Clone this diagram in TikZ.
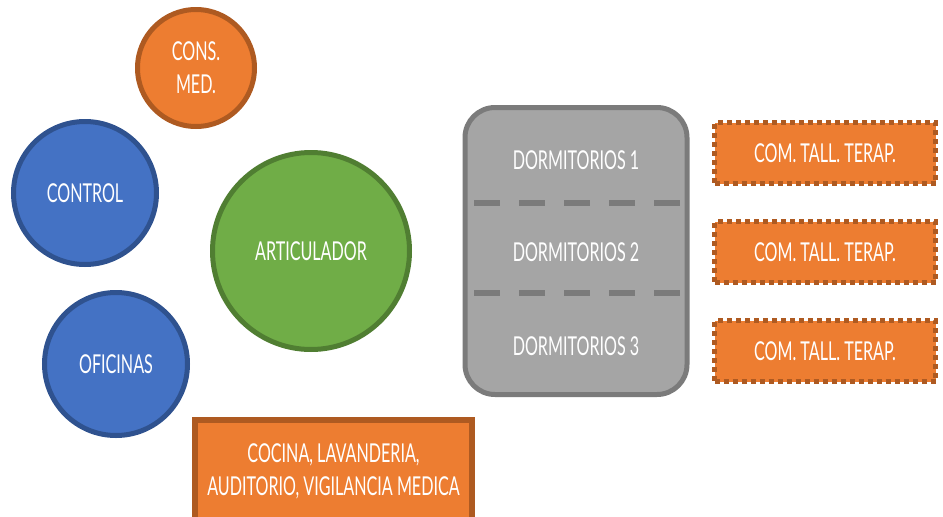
\documentclass[tikz,border=0pt]{standalone}
\usepackage{fontspec}
\setmainfont[FakeStretch=0.62]{Lato}
\usetikzlibrary{positioning}
\definecolor{naranja}{HTML}{ED7D31}
\definecolor{naranjaosc}{HTML}{AE5A21}
\definecolor{azul}{HTML}{4472C4}
\definecolor{azulosc}{HTML}{2F528F}
\definecolor{verde}{HTML}{70AD47}
\definecolor{verdeosc}{HTML}{507E32}
\definecolor{gris}{HTML}{A5A5A5}
\definecolor{grisosc}{HTML}{7B7B7B}
\begin{document}
\begin{tikzpicture}[x=1pt,y=-1pt,line width=5pt,
    font=\fontsize{26}{33}\selectfont]
      \useasboundingbox (0,0) rectangle (943,517);
      \begin{scope}[every node/.style={circle,draw,text=white,inner sep=0pt,align=center}]
        \node (consmed)[fill=naranja,draw=naranjaosc,minimum size=117pt] at (196,68) {CONS.\\MED.};
        \node (control)[fill=azul,draw=azulosc,minimum size=143pt] at (85,193) {CONTROL};
        \node (oficinas)[fill=azul,draw=azulosc,minimum size=143pt] at (116,364) {OFICINAS};
        \node (articulador)[fill=verde,draw=verdeosc,minimum size=197pt] at (311,251) {ARTICULADOR};
      \end{scope}
      \node (dorm)[draw=grisosc,fill=gris,rounded corners=30pt,minimum width=222pt,minimum height=287pt] at (576,251) {};
      \begin{scope}[every node/.style={text=white}]
        \node (dorm1) at (576,160) {DORMITORIOS 1};
        \node (dorm2) at (576,252) {DORMITORIOS 2};
        \node (dorm3) at (576,346) {DORMITORIOS 3};
      \end{scope}
      \begin{scope}[line width=6pt,draw=grisosc,dash pattern=on 26pt off 19pt]
        \draw (474,203) -- (680,203);
        \draw (474,293) -- (680,293);
      \end{scope}
      \begin{scope}[every node/.style={rectangle,draw=naranjaosc,fill=naranja,text=white,
          dash pattern=on 5pt off 4pt,minimum width=221pt,minimum height=61pt}]
        \node (taller1) at (825,153) {COM. TALL. TERAP.};
        \node (taller2) at (825,252) {COM. TALL. TERAP.};
        \node (taller3) at (825,351) {COM. TALL. TERAP.};
      \end{scope}
      \node (cocina)[rectangle,draw=naranjaosc,fill=naranja,text=white,line width=6pt,
        align=center,minimum width=277pt,minimum height=102pt] at (333.5,471)
        {COCINA, LAVANDERIA,\\AUDITORIO, VIGILANCIA MEDICA};
    \end{tikzpicture}
\end{document}
